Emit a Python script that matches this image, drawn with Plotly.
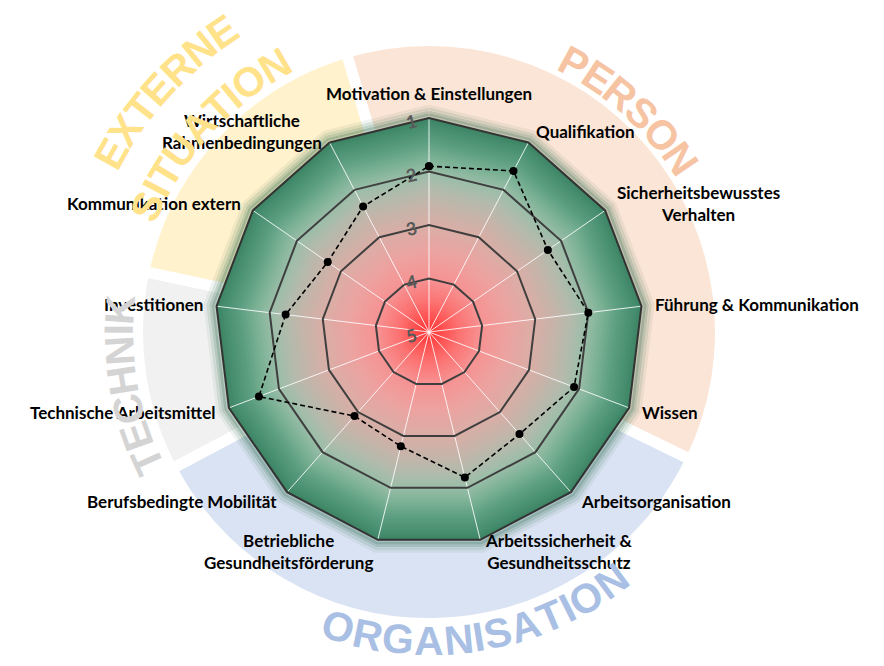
import numpy as np
import plotly.graph_objects as go

# ---------------- data ----------------
categories = [
    "Motivation & Einstellungen", "Qualifikation", "Sicherheitsbewusstes Verhalten",
    "Führung & Kommunikation", "Wissen", "Arbeitsorganisation",
    "Arbeitssicherheit & Gesundheitsschutz", "Betriebliche Gesundheitsförderung",
    "Berufsbedingte Mobilität", "Technische Arbeitsmittel", "Investitionen",
    "Kommunikation extern", "Wirtschaftliche Rahmenbedingungen",
]
category_labels = [
    "Motivation & Einstellungen", "Qualifikation", "Sicherheitsbewusstes<br>Verhalten",
    "Führung & Kommunikation", "Wissen", "Arbeitsorganisation",
    "Arbeitssicherheit &<br>Gesundheitsschutz", "Betriebliche<br>Gesundheitsförderung",
    "Berufsbedingte Mobilität", "Technische Arbeitsmittel", "Investitionen",
    "Kommunikation extern", "Wirtschaftliche<br>Rahmenbedingungen",
]
values = [1.9, 1.6, 2.3, 2.0, 2.1, 2.45, 2.2, 2.8, 2.9, 1.6, 2.3, 2.7, 2.35]
radial_ticks = [1, 2, 3, 4, 5]

group_names = ["PERSON", "ORGANISATION", "TECHNIK", "EXTERNE SITUATION"]
group_start_deg = [-26.0, 208.0, 168.0, 106.5]   # math angle, counter-clockwise from east
group_end_deg = [106.5, 334.0, 208.0, 168.0]

# ---------------- style / layout ----------------
W, H = 884, 666
OFF = 8                     # page body margin
CX, CY = 429 - OFF, 666 - (332 - OFF)   # centre in figure px (y from bottom)
R = 214                     # radar radius in px
R_BG = 1.4                  # background subplot radius in radar-radius units

group_fill = ["#FBE5D6", "#DAE3F3", "#F1F1F1", "#FFF2CC"]
group_text_color = ["#F6C4A3", "#A9BFE4", "#D4D4D4", "#FFE28A"]

def dom(radius_px):
    return dict(x=[(CX - radius_px) / W, (CX + radius_px) / W],
                y=[(CY - radius_px) / H, (CY + radius_px) / H])

fig = go.Figure()

# --- background wedges (polar) ---
mids = [(s + e) / 2 for s, e in zip(group_start_deg, group_end_deg)]
widths = [e - s for s, e in zip(group_start_deg, group_end_deg)]
fig.add_trace(go.Barpolar(
    r=[(286 + 5.5) / R] * len(group_names), theta=mids, width=widths,
    marker=dict(color=group_fill, line=dict(color="white", width=11)),
    subplot="polar", hoverinfo="skip", showlegend=False))

# glow around polygon
n = len(categories)
poly_theta = [90 - i * 360 / n for i in range(n + 1)]
for d, a in [(0.05, 0.07), (0.036, 0.12), (0.023, 0.2), (0.011, 0.3)]:
    fig.add_trace(go.Scatterpolar(
        r=[1 + d] * (n + 1), theta=poly_theta, mode="lines",
        line=dict(color=f"rgba(45,105,75,{a})", width=5),
        subplot="polar", hoverinfo="skip", showlegend=False))

# --- radial gradient (polar2) ---
stops = [(1.0, "#3E8665"), (1.15, "#489070"), (1.4, "#5B9E7F"), (1.7, "#7BB195"),
         (2.0, "#9CBEA9"), (2.3, "#B4BAAC"), (2.7, "#CBB2A9"), (3.0, "#DBADA6"),
         (3.5, "#EDA2A0"), (4.0, "#F79191"), (4.4, "#FC7272"), (4.8, "#FF4545"),
         (5.0, "#FF2626")]

def hex2rgb(h):
    h = h.lstrip("#")
    return np.array([int(h[i:i + 2], 16) for i in (0, 2, 4)], dtype=float)

def grad(v):
    for (v0, c0), (v1, c1) in zip(stops[:-1], stops[1:]):
        if v0 <= v <= v1:
            t = (v - v0) / (v1 - v0)
            c = hex2rgb(c0) * (1 - t) + hex2rgb(c1) * t
            return "rgb(%d,%d,%d)" % tuple(c.round())
    return stops[-1][1]

closed = categories + [categories[0]]
for v in np.linspace(1.0, 4.97, 80):
    fig.add_trace(go.Scatterpolar(
        r=[v] * (n + 1), theta=closed, mode="lines", fill="toself",
        fillcolor=grad(v), line=dict(width=0, color=grad(v)),
        subplot="polar2", hoverinfo="skip", showlegend=False))

# --- data (polar3) ---
fig.add_trace(go.Scatterpolar(
    r=values + [values[0]], theta=closed, mode="lines+markers",
    line=dict(color="black", width=1.6, dash="5px,3px"),
    marker=dict(color="black", size=8),
    subplot="polar3", showlegend=False))

annotations = []

# --- category labels, placed just outside each spoke ---
PAD = 12
for i, lab in enumerate(category_labels):
    a = np.radians(90 - i * 360 / n)
    x = CX + (R + PAD) * np.cos(a)
    y = CY + (R + PAD) * np.sin(a)
    c = np.cos(a)
    if abs(c) < 0.1:
        xa, ya = "center", "bottom"
    else:
        xa, ya = ("left" if c > 0 else "right"), "middle"
    annotations.append(dict(
        x=x / W, y=y / H, xref="paper", yref="paper", text=lab, showarrow=False,
        xanchor=xa, yanchor=ya, align="center",
        font=dict(family="Lato", size=17, color="black", weight="bold")))

# --- curved group titles ---
WID = {'A': 722, 'C': 722, 'E': 667, 'G': 778, 'H': 722, 'I': 278, 'K': 722, 'N': 722,
       'O': 778, 'P': 667, 'R': 722, 'S': 667, 'T': 611, 'U': 722, 'X': 667}
FS = 41

def arc_text(word, mid_deg, r_px, color, clockwise):
    ws = [WID[c] / 1000 * FS for c in word]
    pos = -sum(ws) / 2
    for ch, w in zip(word, ws):
        s = pos + w / 2
        pos += w
        dth = np.degrees(s / r_px)
        a = mid_deg - dth if clockwise else mid_deg + dth
        x = CX + r_px * np.cos(np.radians(a))
        y = CY + r_px * np.sin(np.radians(a))
        ang = (90 - a) if clockwise else -(a + 90)
        annotations.append(dict(
            x=x / W, y=y / H, xref="paper", yref="paper", text=ch, showarrow=False,
            textangle=ang, xanchor="center", yanchor="middle",
            font=dict(family="Liberation Sans, Arial", size=FS, color=color,
                      weight="bold")))

arc_text("PERSON", 48.0, 305, group_text_color[0], True)
arc_text("ORGANISATION", -80.5, 309, group_text_color[1], False)
arc_text("TECHNIK", 190.0, 310, group_text_color[2], True)
arc_text("EXTERNE", 137.6, 364, group_text_color[3], True)
arc_text("SITUATION", 137.9, 308, group_text_color[3], True)

fig.update_layout(
    width=W, height=H, margin=dict(l=0, r=0, t=0, b=0),
    paper_bgcolor="white", plot_bgcolor="white",
    annotations=annotations,
    polar=dict(
        domain=dom(R * R_BG), bgcolor="rgba(0,0,0,0)",
        radialaxis=dict(visible=False, range=[0, R_BG]),
        angularaxis=dict(visible=False, rotation=0, direction="counterclockwise"),
    ),
    polar2=dict(
        domain=dom(R), bgcolor="rgba(0,0,0,0)", gridshape="linear",
        radialaxis=dict(range=[5, 1], showgrid=False, showticklabels=False,
                        showline=False, ticks=""),
        angularaxis=dict(direction="clockwise", rotation=90, categoryorder="array",
                         categoryarray=categories, showgrid=False,
                         showticklabels=False, showline=False, ticks=""),
    ),
    polar3=dict(
        domain=dom(R), bgcolor="rgba(0,0,0,0)", gridshape="linear",
        radialaxis=dict(range=[5, 1], tickvals=radial_ticks, showline=False,
                        angle=90, ticks="", side="counterclockwise", tickangle=76,
                        gridcolor="#3F3F3F", gridwidth=1.5,
                        tickfont=dict(family="Lato", size=18, color="#595959",
                                      weight="bold")),
        angularaxis=dict(direction="clockwise", rotation=90, categoryorder="array",
                         categoryarray=categories, showticklabels=False,
                         gridcolor="rgba(255,255,255,0.85)", gridwidth=1,
                         showline=True, linecolor="#333333", linewidth=2, ticks=""),
    ),
)

fig.write_html("out.html")
